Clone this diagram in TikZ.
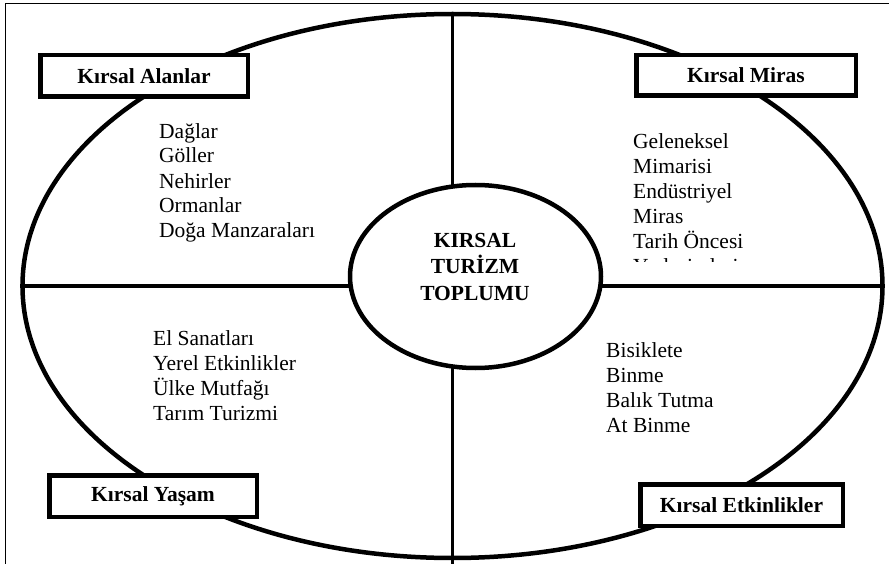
\documentclass[tikz,border=0pt]{standalone}
\usepackage{fontspec}
\setmainfont{Liberation Serif}
\usetikzlibrary{shapes.geometric}

\begin{document}
\begin{tikzpicture}[x=1pt, y=-1pt]
  \tikzset{
    tag/.style={draw, fill=white, line width=4.5pt, inner sep=0pt, font=\fontsize{21.5}{25}\selectfont\bfseries},
    items/.style={anchor=base west, align=left, inner sep=0pt, font=\fontsize{21.5}{25}\selectfont},
    sep/.style={line width=3.5pt},
  }
  \useasboundingbox (0,0) rectangle (889,564);

  % page frame
  \draw[line width=1pt] (5.5,564) -- (5.5,4) -- (889,4);

  % outer ellipse and the cross
  \node[ellipse, draw, line width=4.5pt, minimum width=860pt, minimum height=544pt, inner sep=0pt] (rim) at (452.5,286) {};
  \coordinate (foot) at (452.5,564);
  \draw[sep] (rim.north) -- (foot);
  \draw[sep] (rim.west) -- (rim.east);

  % core (base = last line)
  \node[ellipse, draw, fill=white, line width=4.5pt, minimum width=251pt, minimum height=183pt, inner sep=0pt] (core) at (475.5,276.5) {};
  \node[align=center, anchor=base, inner sep=0pt, font=\fontsize{21.5}{26.5}\selectfont\bfseries] (coretxt) at (475,300) {KIRSAL\\TURİZM\\TOPLUMU};

  % labels on the rim
  \node[tag, minimum width=207.5pt, minimum height=41.5pt] (alan) at (144,76) {Kırsal Alanlar};
  \node[tag, minimum width=219.5pt, minimum height=40.5pt] (miras) at (746,75.5) {Kırsal Miras};
  \node[tag, minimum width=207.5pt, minimum height=41.5pt] (yasam) at (153,496) {Kırsal Yaşam};
  \node[tag, minimum width=202.5pt, minimum height=41.5pt] (etkin) at (741.5,505) {Kırsal Etkinlikler};

  % quadrant lists, placed at the last baseline
  \node[items] (alanlist) at (159,238) {Dağlar\\Göller\\Nehirler\\Ormanlar\\Doğa Manzaraları};
  \begin{scope}
    \clip (600,120) rectangle (860,262);
    \node[items] (miraslist) at (633,273) {Geleneksel\\Mimarisi\\Endüstriyel\\Miras\\Tarih Öncesi\\Yerleşimleri};
  \end{scope}
  \node[items] (yasamlist) at (153,420) {El Sanatları\\Yerel Etkinlikler\\Ülke Mutfağı\\Tarım Turizmi};
  \node[items] (etkinlist) at (606,432) {Bisiklete\\Binme\\Balık Tutma\\At Binme};
\end{tikzpicture}
\end{document}
